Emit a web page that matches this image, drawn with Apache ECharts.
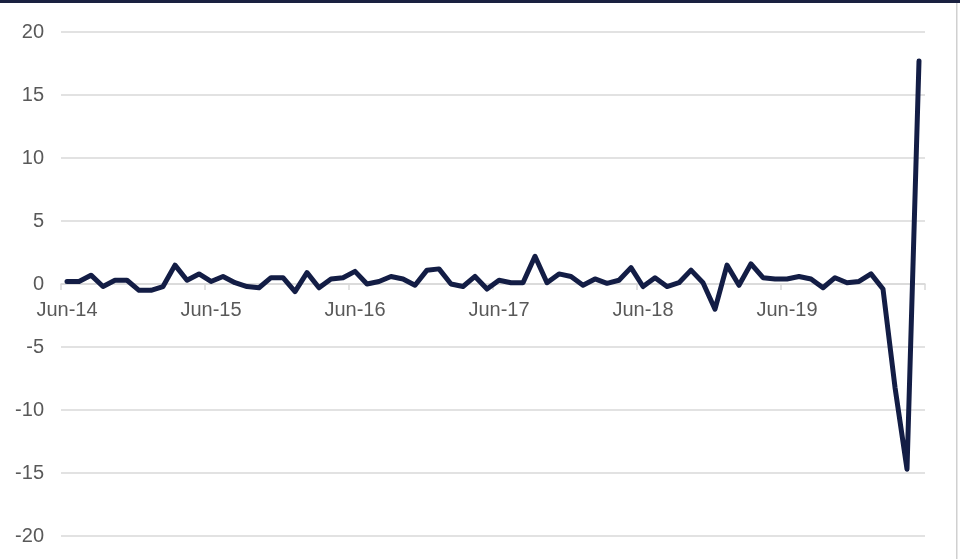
<!DOCTYPE html>
<html>
<head>
<meta charset="utf-8">
<script src="https://cdn.jsdelivr.net/npm/echarts@6/dist/echarts.min.js"></script>
<style>
  html, body { margin: 0; padding: 0; background: #fff; }
  #chart { width: 960px; height: 559px; }
</style>
</head>
<body>
<div id="chart"></div>
<script>
const months = [
  "Jun-14", "Jul-14", "Aug-14", "Sep-14", "Oct-14", "Nov-14", "Dec-14", "Jan-15", "Feb-15", "Mar-15", "Apr-15", "May-15",
  "Jun-15", "Jul-15", "Aug-15", "Sep-15", "Oct-15", "Nov-15", "Dec-15", "Jan-16", "Feb-16", "Mar-16", "Apr-16", "May-16",
  "Jun-16", "Jul-16", "Aug-16", "Sep-16", "Oct-16", "Nov-16", "Dec-16", "Jan-17", "Feb-17", "Mar-17", "Apr-17", "May-17",
  "Jun-17", "Jul-17", "Aug-17", "Sep-17", "Oct-17", "Nov-17", "Dec-17", "Jan-18", "Feb-18", "Mar-18", "Apr-18", "May-18",
  "Jun-18", "Jul-18", "Aug-18", "Sep-18", "Oct-18", "Nov-18", "Dec-18", "Jan-19", "Feb-19", "Mar-19", "Apr-19", "May-19",
  "Jun-19", "Jul-19", "Aug-19", "Sep-19", "Oct-19", "Nov-19", "Dec-19", "Jan-20", "Feb-20", "Mar-20", "Apr-20", "May-20"
];

// month-on-month change, %
const values = [
  0.2, 0.2, 0.7, -0.2, 0.3, 0.3, -0.5, -0.5, -0.2, 1.5, 0.3, 0.8,
  0.2, 0.6, 0.1, -0.2, -0.3, 0.5, 0.5, -0.6, 0.9, -0.3, 0.4, 0.5,
  1.0, 0.0, 0.2, 0.6, 0.4, -0.1, 1.1, 1.2, 0.0, -0.2, 0.6, -0.4,
  0.3, 0.1, 0.1, 2.2, 0.1, 0.8, 0.6, -0.1, 0.4, 0.05, 0.3, 1.3,
  -0.2, 0.5, -0.2, 0.1, 1.1, 0.1, -2.0, 1.5, -0.1, 1.6, 0.5, 0.4,
  0.4, 0.6, 0.4, -0.3, 0.5, 0.1, 0.2, 0.8, -0.4, -8.2, -14.7, 17.7
];

const yTicks = { min: -20, max: 20, step: 5 };

const textColor = "#595959";
const gridColor = "#d9d9d9";
const lineColor = "#131d45";
const font = "Liberation Sans, Arial, sans-serif";

const gridTop = 32;
const gridBottom = 23;
const gridHeight = 559 - gridTop - gridBottom;
// the category axis sits on the zero line, half way down the grid
const zeroOffset = gridHeight * (0 - yTicks.min) / (yTicks.max - yTicks.min);

const chart = echarts.init(document.getElementById("chart"));

chart.setOption({
  animation: false,
  backgroundColor: "#ffffff",
  grid: { left: 61, right: 35, top: gridTop, bottom: gridBottom, containLabel: false },
  xAxis: {
    type: "category",
    data: months,
    boundaryGap: true,
    offset: -zeroOffset,
    axisLine: { onZero: false, lineStyle: { color: gridColor, width: 1.5 } },
    axisTick: { show: true, interval: 11, length: 6, lineStyle: { color: gridColor, width: 1.5 } },
    axisLabel: {
      interval: 11,
      color: textColor,
      fontSize: 20,
      fontFamily: font,
      margin: 16
    },
    splitLine: { show: false }
  },
  yAxis: {
    type: "value",
    min: yTicks.min,
    max: yTicks.max,
    interval: yTicks.step,
    axisLine: { show: false },
    axisTick: { show: false },
    axisLabel: {
      color: textColor,
      fontSize: 20,
      fontFamily: font,
      margin: 17
    },
    splitLine: { lineStyle: { color: gridColor, width: 1.5 } }
  },
  series: [
    {
      type: "line",
      data: values,
      symbol: "none",
      z: 5,
      lineStyle: { color: lineColor, width: 5, join: "round", cap: "round" }
    }
  ],
  graphic: [
    { type: "rect", left: 0, top: 0, shape: { width: 960, height: 3 }, style: { fill: "#1a2140" } },
    { type: "rect", left: 956, top: 3, shape: { width: 1.5, height: 556 }, style: { fill: "#d0d0d0" } }
  ]
});
</script>
</body>
</html>
